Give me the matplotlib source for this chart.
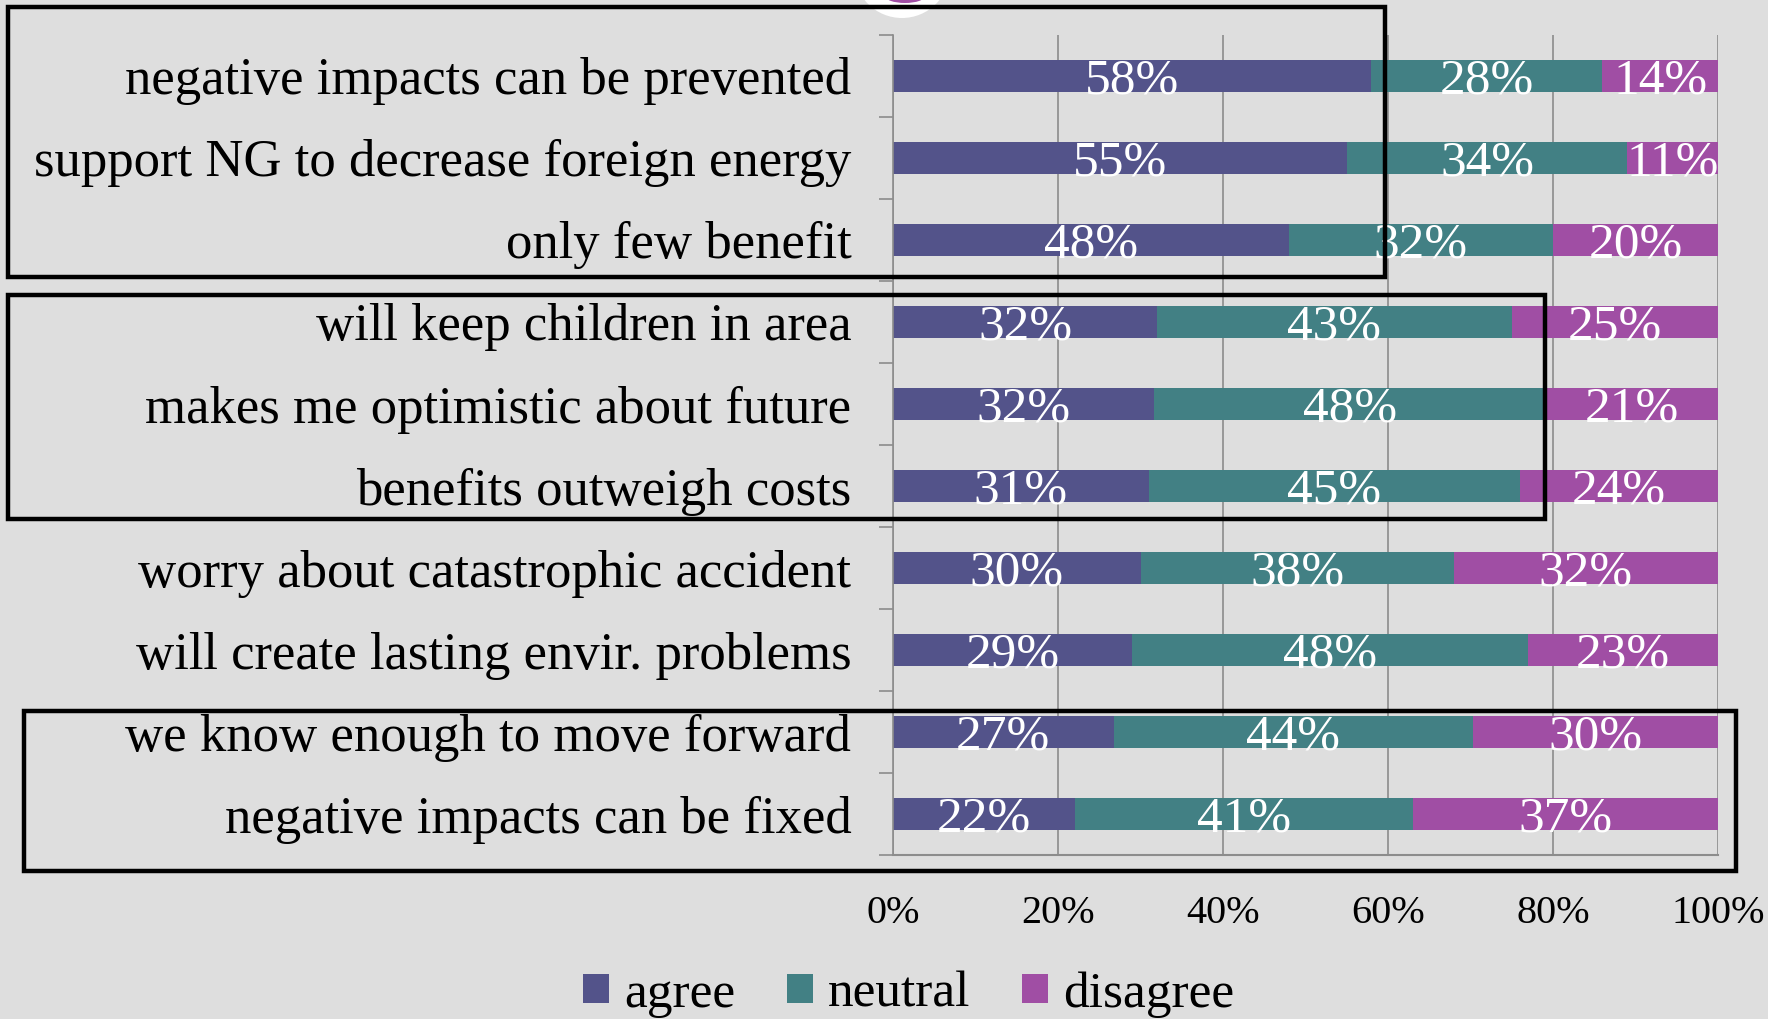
import matplotlib
import numpy as np

matplotlib.use('Agg')
import matplotlib.pyplot as plt
from matplotlib.patches import Rectangle, Ellipse

categories = ["negative impacts can be prevented",
              "support NG to decrease foreign energy",
              "only few benefit",
              "will keep children in area",
              "makes me optimistic about future",
              "benefits outweigh costs",
              "worry about catastrophic accident",
              "will create lasting envir. problems",
              "we know enough to move forward",
              "negative impacts can be fixed"]
agree = [58, 55, 48, 32, 32, 31, 30, 29, 27, 22]
neutral = [28, 34, 32, 43, 48, 45, 38, 48, 44, 41]
disagree = [14, 11, 20, 25, 21, 24, 32, 23, 30, 37]
series_names = ["agree", "neutral", "disagree"]
series_colors = ["#53538A", "#428084", "#A04EA4"]
xticks = [0, 0.2, 0.4, 0.6, 0.8, 1.0]
xtick_labels = ["0%", "20%", "40%", "60%", "80%", "100%"]

BG = "#DEDEDE"
FONT = "Liberation Serif"
plt.rcParams['font.family'] = [FONT, 'DejaVu Serif']

fig = plt.figure(figsize=(17.68, 10.19), dpi=100, facecolor=BG)
ax = fig.add_axes([0.5051, 0.1609, 0.4666, 0.8048])
ax.set_facecolor(BG)

data = np.array([agree, neutral, disagree], dtype=float)
totals = data.sum(axis=0)
shares = data / totals  # rows like 32/48/21 add to 101, bars are 100% stacked
y = np.arange(len(categories))

left = np.zeros(len(categories))
for i, name in enumerate(series_names):
    ax.barh(y, shares[i], left=left, height=0.38, color=series_colors[i],
            label=name, zorder=2)
    for j in range(len(categories)):
        ax.text(left[j] + shares[i][j] / 2, y[j] + 0.06, "{:d}%".format(int(data[i][j])),
                ha="center", va="center", color="white", fontsize=37, zorder=3)
    left += shares[i]

ax.set_xlim(0, 1)
ax.set_ylim(len(categories) - 0.5, -0.5)

# gridlines
ax.set_xticks(xticks)
ax.set_xticklabels(xtick_labels, fontsize=29)
ax.tick_params(axis="x", length=0, pad=29)
ax.grid(axis="x", color="#8C8C8C", lw=1.2, zorder=1)

# y axis: boundary ticks + category labels
ax.set_yticks(np.arange(-0.5, len(categories), 1.0))
ax.set_yticklabels([])
ax.tick_params(axis="y", which="major", length=10, color="#8C8C8C", width=1.2)
ax.set_yticks(y, minor=True)
ax.set_yticklabels(categories, minor=True, fontsize=38)
ax.tick_params(axis="y", which="minor", length=0, pad=30)

for s in ["top", "right"]:
    ax.spines[s].set_visible(False)
ax.spines["left"].set_color("#8C8C8C")
ax.spines["bottom"].set_color("#8C8C8C")
ax.spines["left"].set_linewidth(1.2)
ax.spines["bottom"].set_linewidth(1.5)

leg = fig.legend(loc="center", bbox_to_anchor=(0.514, 0.024), ncol=3, frameon=False,
                 fontsize=37, handlelength=0.5, handleheight=0.5, handletextpad=0.3,
                 columnspacing=1.0)

# highlight boxes
W, H = 1768.0, 1019.0
boxes = [(8, 7, 1385, 277), (8, 295, 1545, 519), (24, 711, 1736, 871)]
for x0, y0, x1, y1 in boxes:
    fig.patches.append(Rectangle((x0 / W, 1 - y1 / H), (x1 - x0) / W, (y1 - y0) / H,
                                 transform=fig.transFigure, fill=False,
                                 edgecolor="black", lw=3.2, zorder=5))

# logo fragment at the top edge
fig.patches.append(Ellipse((902 / W, 1 + 30 / H), 96 / W, 96 / H,
                           transform=fig.transFigure, facecolor="white",
                           edgecolor="none", zorder=4))
fig.patches.append(Ellipse((905 / W, 1 + 4 / H), 40 / W, 14 / H,
                           transform=fig.transFigure, facecolor="#A04EA4",
                           edgecolor="none", zorder=4))

fig.savefig("out.png", dpi=100, facecolor=BG)
